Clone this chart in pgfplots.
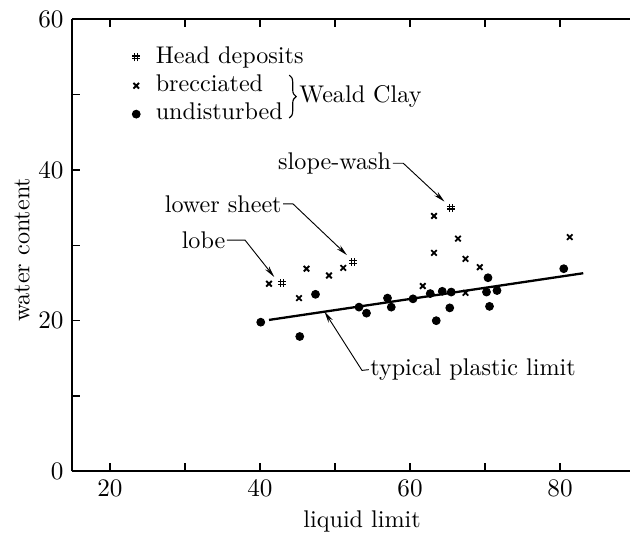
\documentclass[border=0pt]{standalone}
\usepackage{pgfplots}
\pgfplotsset{compat=1.18}
\usetikzlibrary{arrows.meta,decorations.pathreplacing}

\pgfdeclareplotmark{hash}{%
  \pgfpathmoveto{\pgfqpoint{-0.35\pgfplotmarksize}{-\pgfplotmarksize}}%
  \pgfpathlineto{\pgfqpoint{-0.35\pgfplotmarksize}{\pgfplotmarksize}}%
  \pgfpathmoveto{\pgfqpoint{0.35\pgfplotmarksize}{-\pgfplotmarksize}}%
  \pgfpathlineto{\pgfqpoint{0.35\pgfplotmarksize}{\pgfplotmarksize}}%
  \pgfpathmoveto{\pgfqpoint{-\pgfplotmarksize}{-0.35\pgfplotmarksize}}%
  \pgfpathlineto{\pgfqpoint{\pgfplotmarksize}{-0.35\pgfplotmarksize}}%
  \pgfpathmoveto{\pgfqpoint{-\pgfplotmarksize}{0.35\pgfplotmarksize}}%
  \pgfpathlineto{\pgfqpoint{\pgfplotmarksize}{0.35\pgfplotmarksize}}%
  \pgfusepathqstroke}

\pgfplotstableread{
x y
42.9 25.0
52.4 27.8
65.5 35.0
}\headdata

\pgfplotstableread{
x y
41.2 24.9
45.2 23.0
46.2 26.9
49.2 26.0
51.1 27.0
61.7 24.6
63.2 29.0
63.2 33.9
66.4 30.9
67.4 28.2
69.3 27.1
67.4 23.7
81.3 31.1
}\brecdata

\pgfplotstableread{
x y
40.1 19.8
45.3 17.9
47.4 23.5
53.2 21.8
54.2 21.0
57.0 23.0
57.5 21.8
60.4 22.9
62.7 23.6
63.5 20.0
64.3 23.9
65.5 23.8
65.3 21.7
70.2 23.8
70.4 25.7
70.6 21.9
71.6 24.0
80.5 26.9
}\unddata

\begin{document}
\fontsize{10.5}{12.6}\selectfont
\begin{tikzpicture}[font=\fontsize{10.5}{12.6}\selectfont]
\begin{axis}[
  at={(0,0)}, anchor=south west,
  scale only axis, width=242.7pt, height=196.6pt,
  xmin=14.93, xmax=89.33, ymin=0, ymax=60,
  axis x line*=box, axis y line*=left,
  x axis line style={-, line width=0.9pt},
  y axis line style={-, line width=0.9pt},
  tick align=inside,
  xtick={20,40,60,80}, minor xtick={30,50,70},
  ytick={0,20,40,60}, minor ytick={10,30,50},
  xtick pos=both, ytick pos=left,
  xticklabel pos=left,
  major tick length=3.5pt, minor tick length=3.5pt,
  every tick/.style={black, line width=0.6pt},
  xlabel={liquid limit}, ylabel={water content},
  xlabel style={at={(axis description cs:0.52,-0.111)}, anchor=center},
  ylabel style={at={(axis description cs:-0.0896,0.49)}, anchor=center},
  clip=false,
  legend image code/.code={\draw[#1] plot coordinates {(0pt,0pt)};},
  legend style={draw=none, fill=none, at={(axis description cs:0.095,0.950)},
    anchor=north west, row sep=3.35pt,
    nodes={inner sep=0pt, text height=7pt, text depth=2pt},
    /tikz/every odd column/.append style={column sep=6.8pt}},
  legend cell align=left,
]
\addplot[only marks, mark=hash, mark size=1.7pt, line width=0.5pt] table {\headdata};
\addlegendentry{Head deposits}
\addplot[only marks, mark=x, mark size=1.7pt, line width=0.8pt] table {\brecdata};
\addlegendentry{brecciated}
\addplot[only marks, mark=*, mark size=1.7pt, black] table {\unddata};
\addlegendentry{undisturbed}
\addplot[black, line width=1pt, forget plot] coordinates {(41.2,20.1) (83.1,26.3)};

\draw[decorate, decoration={brace, amplitude=3pt}, line width=0.5pt]
  (axis cs:43.9,52.6) -- (axis cs:43.9,46.9);
\node[anchor=west, inner sep=0pt] at (axis cs:45.2,49.7) {Weald Clay};

\node[anchor=east, inner sep=0.5pt] (sw) at (axis cs:57.7,40.9) {slope-wash};
\draw[-{Stealth[length=5pt,width=2.2pt]}, line width=0.4pt]
  (sw.east) -- (axis cs:59.1,40.9) -- (axis cs:64.6,35.8);
\node[anchor=east, inner sep=0.5pt] (ls) at (axis cs:43.1,35.5) {lower sheet};
\draw[-{Stealth[length=5pt,width=2.2pt]}, line width=0.4pt]
  (ls.east) -- (axis cs:44.4,35.5) -- (axis cs:51.6,28.7);
\node[anchor=east, inner sep=0.5pt] (lb) at (axis cs:35.6,30.7) {lobe};
\draw[-{Stealth[length=5pt,width=2.2pt]}, line width=0.4pt]
  (lb.east) -- (axis cs:38.0,30.7) -- (axis cs:41.9,25.8);
\node[anchor=west, inner sep=0.5pt] (pl) at (axis cs:54.5,13.5) {typical plastic limit};
\draw[-{Stealth[length=5pt,width=2.2pt]}, line width=0.4pt]
  (pl.west) -- (axis cs:53.6,13.4) -- (axis cs:48.6,21.2);
\end{axis}
\pgfresetboundingbox
\useasboundingbox (-31.3pt,-26.5pt) rectangle (242.7pt,205pt);
\end{tikzpicture}
\end{document}
